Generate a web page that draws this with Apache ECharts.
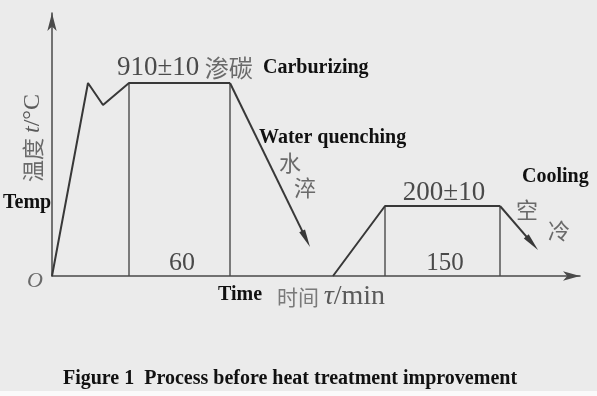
<!DOCTYPE html>
<html>
<head>
<meta charset="utf-8">
<script src="https://cdn.jsdelivr.net/npm/echarts@6/dist/echarts.min.js"></script>
<style>
html,body{margin:0;padding:0;background:#ebebeb;}
#c{width:597px;height:396px;}
</style>
</head>
<body>
<div id="c"></div>
<script>
// Schematic process curve (diagram units; not to scale, as in the original figure)
const mainTime  = [0, 36, 51, 77, 178];
const mainLevel = [0, 193, 171, 193, 193];
const temperTime  = [281, 333, 448];
const temperLevel = [0, 70, 70];
// arrowed cooling segments: [t1, level1, t2, level2]
const quench  = [178, 193, 258, 29];
const airCool = [448, 70, 486, 26];
// vertical hold markers: [t, level]
const holdMarks = [[77, 193], [178, 193], [333, 70], [448, 70]];
// annotation texts
const carbTempLabel = '910±10';
const carbLabel = '渗碳';
const holdLabel1 = '60';
const temperTempLabel = '200±10';
const holdLabel2 = '150';

const chart = echarts.init(document.getElementById('c'));
const lineColor = '#383838';
const serif = 'Liberation Serif';
const cjk = 'Noto Sans CJK SC';

function arrowItem(params, api) {
  const p1 = api.coord([api.value(0), api.value(1)]);
  const p2 = api.coord([api.value(2), api.value(3)]);
  const dx = p2[0] - p1[0], dy = p2[1] - p1[1];
  const len = Math.hypot(dx, dy);
  const ux = dx / len, uy = dy / len;
  const L = 18, W = 3.2;
  const bx = p2[0] - ux * L, by = p2[1] - uy * L;
  return {
    type: 'group',
    children: [
      {type: 'line', shape: {x1: p1[0], y1: p1[1], x2: bx + ux * 4, y2: by + uy * 4},
       style: {stroke: lineColor, lineWidth: 2}},
      {type: 'polygon', shape: {points: [[p2[0], p2[1]], [bx - uy * W, by + ux * W], [bx + uy * W, by - ux * W]]},
       style: {fill: lineColor}}
    ]
  };
}

function vItem(params, api) {
  const top = api.coord([api.value(0), api.value(1)]);
  const bot = api.coord([api.value(0), 0]);
  return {type: 'line', shape: {x1: top[0], y1: top[1], x2: bot[0], y2: bot[1]},
          style: {stroke: '#4a4a4a', lineWidth: 1.4}};
}

chart.setOption({
  backgroundColor: '#ebebeb',
  animation: false,
  grid: {left: 52, right: 17, top: 13, bottom: 120},
  xAxis: {
    type: 'value', min: 0, max: 528,
    axisLine: {show: true, symbol: ['none', 'arrow'], symbolSize: [7, 17], lineStyle: {color: '#4a4a4a', width: 1.5}},
    axisTick: {show: false}, axisLabel: {show: false}, splitLine: {show: false}
  },
  yAxis: {
    type: 'value', min: 0, max: 263,
    axisLine: {show: true, symbol: ['none', 'arrow'], symbolSize: [7, 18], lineStyle: {color: '#4a4a4a', width: 1.5}},
    axisTick: {show: false}, axisLabel: {show: false}, splitLine: {show: false}
  },
  series: [
    {type: 'custom', renderItem: vItem, data: holdMarks, silent: true, z: 2},
    {type: 'line', data: mainTime.map((t, i) => [t, mainLevel[i]]), showSymbol: false,
     lineStyle: {color: lineColor, width: 2}, z: 3},
    {type: 'line', data: temperTime.map((t, i) => [t, temperLevel[i]]), showSymbol: false,
     lineStyle: {color: lineColor, width: 2}, z: 3},
    {type: 'custom', renderItem: arrowItem, data: [quench, airCool], silent: true, z: 3}
  ],
  graphic: [
    {type: 'rect', shape: {x: 0, y: 391, width: 597, height: 5}, style: {fill: '#fafafa'}},
    {type: 'text', x: 117, y: 68, style: {
      text: '{n|' + carbTempLabel + '}{c| ' + carbLabel + '}', textVerticalAlign: 'middle',
      rich: {n: {fontFamily: serif, fontSize: 27, fill: '#4a4a4a'}, c: {fontFamily: cjk, fontSize: 24, fill: '#6a6a6a'}}}},
    {type: 'text', x: 263, y: 68, style: {text: 'Carburizing', font: 'bold 20px "Liberation Serif"', fill: '#111', textVerticalAlign: 'middle'}},
    {type: 'text', x: 259, y: 138, style: {text: 'Water quenching', font: 'bold 20px "Liberation Serif"', fill: '#111', textVerticalAlign: 'middle'}},
    {type: 'text', x: 290, y: 163, style: {text: '水', font: '22px "Noto Sans CJK SC"', fill: '#6a6a6a', textAlign: 'center', textVerticalAlign: 'middle'}},
    {type: 'text', x: 305, y: 188, style: {text: '淬', font: '22px "Noto Sans CJK SC"', fill: '#6a6a6a', textAlign: 'center', textVerticalAlign: 'middle'}},
    {type: 'text', x: 3, y: 203, style: {text: 'Temp', font: 'bold 20px "Liberation Serif"', fill: '#111', textVerticalAlign: 'middle'}},
    {type: 'text', x: 33, y: 138, rotation: Math.PI / 2, style: {
      text: '{c|温度 }{i|t}{n|/°C}', textAlign: 'center', textVerticalAlign: 'middle',
      rich: {c: {fontFamily: cjk, fontSize: 22, fill: '#6a6a6a'}, i: {fontFamily: serif, fontStyle: 'italic', fontSize: 24, fill: '#5a5a5a'}, n: {fontFamily: serif, fontSize: 24, fill: '#5a5a5a'}}}},
    {type: 'text', x: 35, y: 281, style: {text: 'O', font: 'italic 22px "Liberation Serif"', fill: '#6a6a6a', textAlign: 'center', textVerticalAlign: 'middle'}},
    {type: 'text', x: 182, y: 263, style: {text: holdLabel1, font: '26px "Liberation Serif"', fill: '#4a4a4a', textAlign: 'center', textVerticalAlign: 'middle'}},
    {type: 'text', x: 218, y: 295, style: {text: 'Time', font: 'bold 20px "Liberation Serif"', fill: '#111', textVerticalAlign: 'middle'}},
    {type: 'text', x: 277, y: 297, style: {
      text: '{c|时间 }{i|τ}{n|/min}', textVerticalAlign: 'middle',
      rich: {c: {fontFamily: cjk, fontSize: 21, fill: '#7a7a7a'}, i: {fontFamily: serif, fontStyle: 'italic', fontSize: 28, fill: '#5a5a5a'}, n: {fontFamily: serif, fontSize: 28, fill: '#5a5a5a'}}}},
    {type: 'text', x: 444, y: 193, style: {text: temperTempLabel, font: '27px "Liberation Serif"', fill: '#4a4a4a', textAlign: 'center', textVerticalAlign: 'middle'}},
    {type: 'text', x: 445, y: 263, style: {text: holdLabel2, font: '25px "Liberation Serif"', fill: '#4a4a4a', textAlign: 'center', textVerticalAlign: 'middle'}},
    {type: 'text', x: 522, y: 177, style: {text: 'Cooling', font: 'bold 20px "Liberation Serif"', fill: '#111', textVerticalAlign: 'middle'}},
    {type: 'text', x: 527, y: 210, style: {text: '空', font: '22px "Noto Sans CJK SC"', fill: '#6a6a6a', textAlign: 'center', textVerticalAlign: 'middle'}},
    {type: 'text', x: 559, y: 231, style: {text: '冷', font: '22px "Noto Sans CJK SC"', fill: '#6a6a6a', textAlign: 'center', textVerticalAlign: 'middle'}},
    {type: 'text', x: 290, y: 379, style: {text: 'Figure 1  Process before heat treatment improvement', font: 'bold 20px "Liberation Serif"', fill: '#111', textAlign: 'center', textVerticalAlign: 'middle'}}
  ]
});
</script>
</body>
</html>
